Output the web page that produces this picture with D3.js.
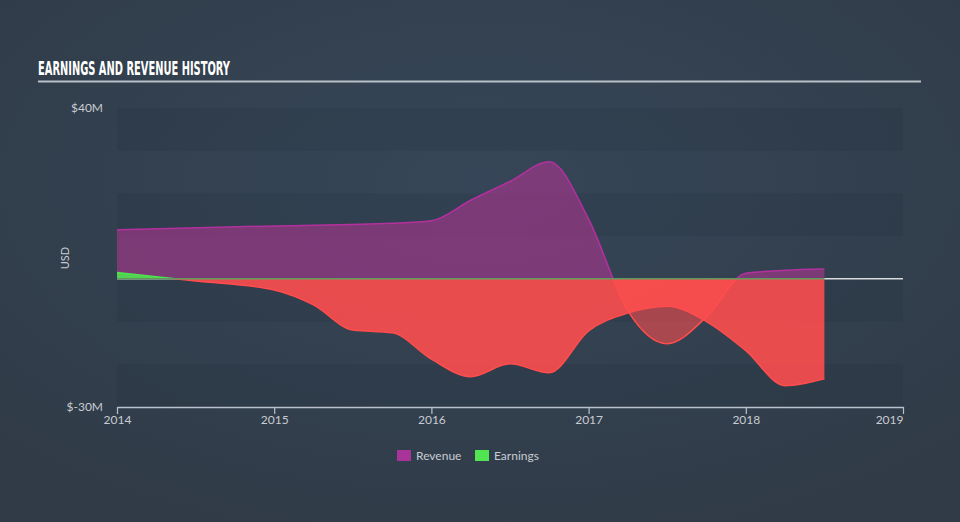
<!DOCTYPE html>
<html><head><meta charset="utf-8">
<script src="https://cdn.jsdelivr.net/npm/d3@7"></script>
<style>html,body{margin:0;padding:0;background:#323f4d;overflow:hidden} svg{display:block}</style>
</head><body><svg id="c" width="960" height="522"></svg>
<script>
// ---- data (USD millions, dates as decimal years) ----
const revenueDates  = [2014.0, 2015.0, 2015.75, 2016.0, 2016.25, 2016.5, 2016.75, 2017.0, 2017.25, 2017.5, 2017.75, 2018.0, 2018.25, 2018.5];
const revenueValues = [11.5, 12.4, 13.0, 13.6, 18.4, 22.8, 27.4, 14.0, -7.5, -15.2, -8.9, 1.3, 2.0, 2.3];
const earningsDates  = [2014.0, 2014.5, 2015.0, 2015.25, 2015.5, 2015.75, 2016.0, 2016.25, 2016.5, 2016.75, 2017.0, 2017.25, 2017.5, 2017.75, 2018.0, 2018.25, 2018.5];
const earningsValues = [1.5, -0.5, -2.6, -6.1, -12.0, -12.6, -18.8, -22.9, -19.9, -22.0, -12.2, -8.0, -6.4, -10.0, -16.8, -25.0, -23.4];
const yTickValues = [40, -30];
const yTickLabels = ["$40M", "$-30M"];
const xTickYears = [2014, 2015, 2016, 2017, 2018, 2019];
const legendNames = ["Revenue", "Earnings"];
const titleText = "EARNINGS AND REVENUE HISTORY";

const svg = d3.select("#c");
const W = 960, H = 522;
const m = {left: 117, right: 903, top: 108, bottom: 407};

const x = d3.scaleLinear().domain([2014, 2019]).range([m.left, m.right]);
const y = d3.scaleLinear().domain([-30, 40]).range([m.bottom, m.top]);

// background
const defs = svg.append("defs");
const rg = defs.append("radialGradient").attr("id", "bg").attr("cx", "50%").attr("cy", "35%").attr("r", "70%");
rg.append("stop").attr("offset", "0%").attr("stop-color", "#364658");
rg.append("stop").attr("offset", "100%").attr("stop-color", "#303b47");
svg.append("rect").attr("width", W).attr("height", H).attr("fill", "url(#bg)");

// bands
const bandEdges = d3.range(-30, 40, 10);
svg.append("g").selectAll("rect").data(bandEdges.filter((d, i) => i % 2 === 0)).join("rect")
  .attr("x", m.left).attr("width", m.right - m.left)
  .attr("y", d => y(d + 10)).attr("height", d => y(d) - y(d + 10))
  .attr("fill", "#1e2a36").attr("opacity", 0.16);

// title
svg.append("text").text(titleText)
  .attr("x", 38).attr("y", 75)
  .attr("font-family", "'DejaVu Sans Condensed', 'DejaVu Sans', sans-serif")
  .attr("font-weight", "bold").attr("font-size", 19)
  .attr("textLength", 192).attr("lengthAdjust", "spacingAndGlyphs")
  .attr("fill", "#ffffff");
svg.append("line").attr("x1", 38).attr("x2", 921).attr("y1", 81.5).attr("y2", 81.5)
  .attr("stroke", "#b8c0c8").attr("stroke-width", 2);

// clip paths
defs.append("clipPath").attr("id", "pos").append("rect")
  .attr("x", 0).attr("y", 0).attr("width", W).attr("height", y(0));
defs.append("clipPath").attr("id", "neg").append("rect")
  .attr("x", 0).attr("y", y(0)).attr("width", W).attr("height", H - y(0));

// zero line
svg.append("line").attr("x1", m.left).attr("x2", m.right).attr("y1", y(0)).attr("y2", y(0))
  .attr("stroke", "#d8dce0").attr("stroke-width", 1.5);

const RED = "#ff4d4d";
function drawSeries(dates, values, posColor, posFill, posOp, negOp) {
  const data = dates.map((d, i) => [d, values[i]]);
  const area = d3.area().x(d => x(d[0])).y0(y(0)).y1(d => y(d[1])).curve(d3.curveMonotoneX);
  const line = d3.line().x(d => x(d[0])).y(d => y(d[1])).curve(d3.curveMonotoneX);
  const g = svg.append("g");
  g.append("path").attr("d", area(data)).attr("clip-path", "url(#pos)").attr("fill", posFill).attr("fill-opacity", posOp);
  g.append("path").attr("d", area(data)).attr("clip-path", "url(#neg)").attr("fill", RED).attr("fill-opacity", negOp);
  g.append("path").attr("d", line(data)).attr("clip-path", "url(#pos)").attr("fill", "none").attr("stroke", posColor).attr("stroke-width", 1.5);
  g.append("path").attr("d", line(data)).attr("clip-path", "url(#neg)").attr("fill", "none").attr("stroke", RED).attr("stroke-width", 1.5);
}
drawSeries(revenueDates, revenueValues, "#b4309e", "#b13592", 0.58, 0.58);
drawSeries(earningsDates, earningsValues, "#4fe24f", "#4fe24f", 0.9, 0.89);

// greenish zero segment over data range
svg.append("line").attr("x1", x(earningsDates[0])).attr("x2", x(earningsDates[earningsDates.length - 1]))
  .attr("y1", y(0)).attr("y2", y(0)).attr("stroke", "#5e9a5e").attr("stroke-width", 1.5);

// x axis
const xAxis = d3.axisBottom(x).tickValues(xTickYears).tickFormat(d3.format("d")).tickSize(7).tickSizeOuter(0);
const xg = svg.append("g").attr("transform", `translate(0,${m.bottom})`).call(xAxis);
xg.select(".domain").attr("stroke", "#b9c2cc").attr("stroke-width", 1.5);
xg.selectAll(".tick line").attr("stroke", "#b9c2cc").attr("stroke-width", 1.2);
xg.selectAll(".tick text").attr("fill", "#c8ccd2").attr("font-size", 12)
  .attr("font-family", "Lato, 'Open Sans', sans-serif").attr("y", 8).attr("dy", "0.71em")
  .attr("text-anchor", (d, i, n) => i === n.length - 1 ? "end" : "middle");

// y labels
svg.append("g").selectAll("text").data(yTickValues).join("text")
  .attr("x", 103).attr("y", d => y(d)).attr("dy", "0.3em").attr("text-anchor", "end")
  .attr("fill", "#c8ccd2").attr("font-size", 12).attr("font-family", "Lato, 'Open Sans', sans-serif")
  .text((d, i) => yTickLabels[i]);
svg.append("text").text("USD").attr("transform", `translate(69,258) rotate(-90)`)
  .attr("text-anchor", "middle").attr("fill", "#c8ccd2").attr("font-size", 11)
  .attr("font-family", "Lato, 'Open Sans', sans-serif");

// legend
const legColors = ["#a8349a", "#52e552"];
const legX = [397, 475];
const lg = svg.append("g");
legendNames.forEach((n, i) => {
  lg.append("rect").attr("x", legX[i]).attr("y", 450).attr("width", 14).attr("height", 11).attr("fill", legColors[i]);
  lg.append("text").attr("x", legX[i] + 19).attr("y", 460).text(n)
    .attr("fill", "#c8ccd2").attr("font-size", 12).attr("font-family", "Lato, 'Open Sans', sans-serif");
});
</script>
</body></html>
